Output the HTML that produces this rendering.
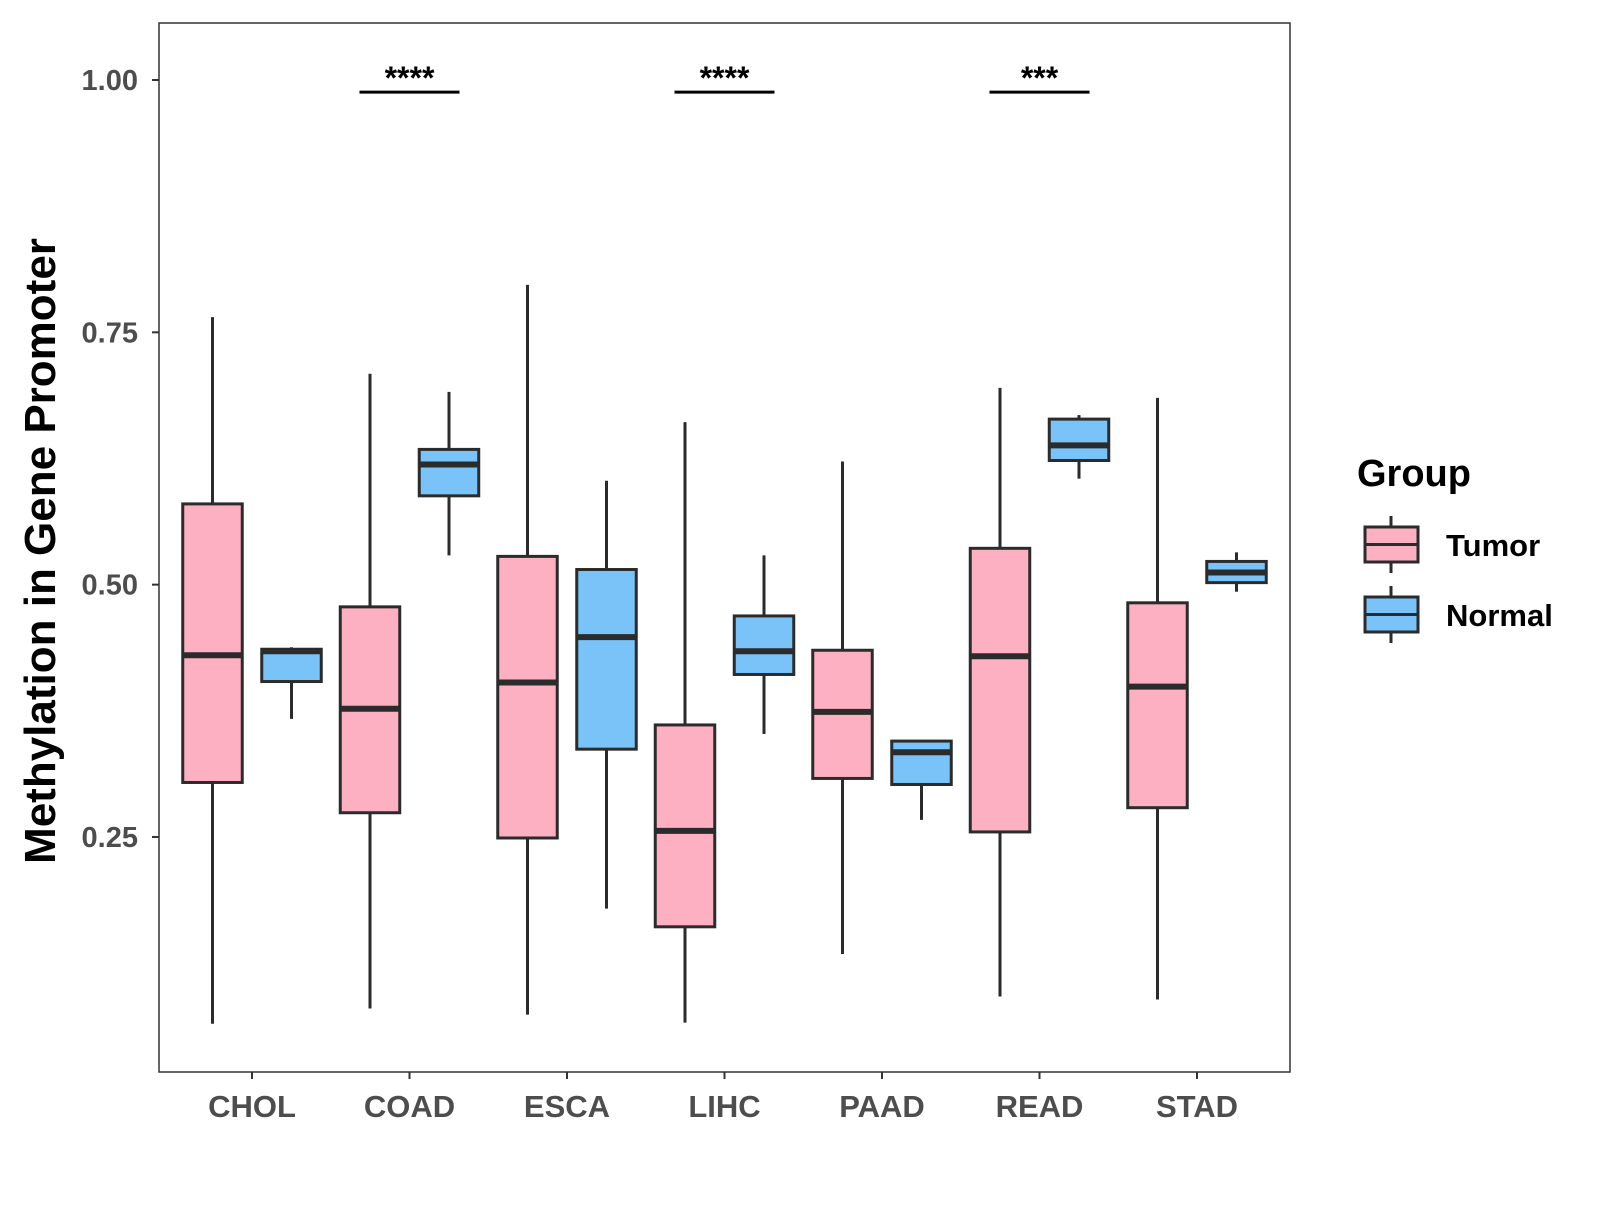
<!DOCTYPE html>
<html><head><meta charset="utf-8"><style>
body{margin:0;background:#fff}
svg text{font-family:"Liberation Sans",Arial,sans-serif;font-weight:bold}
</style></head><body>
<svg id="chart" width="1600" height="1200" xmlns="http://www.w3.org/2000/svg">
<rect width="1600" height="1200" fill="#fff"/>
<g id="plot"></g>
<text transform="translate(55,551) rotate(-90)" text-anchor="middle" font-size="44" fill="#000">Methylation in Gene Promoter</text>
<g transform="translate(-7,0)">
<text x="1364" y="486" font-size="38" fill="#000">Group</text>
<g>
<line x1="1398" x2="1398" y1="516" y2="573" stroke="#2b2b2b" stroke-width="3"/>
<rect x="1372" y="527" width="53" height="35" fill="#FDB0C1" stroke="#2b2b2b" stroke-width="3"/>
<line x1="1372" x2="1425" y1="544.5" y2="544.5" stroke="#2b2b2b" stroke-width="3"/>
<text x="1453" y="556" font-size="31" fill="#000">Tumor</text>
</g>
<g>
<line x1="1398" x2="1398" y1="586" y2="643" stroke="#2b2b2b" stroke-width="3"/>
<rect x="1372" y="597" width="53" height="35" fill="#79C3F8" stroke="#2b2b2b" stroke-width="3"/>
<line x1="1372" x2="1425" y1="614.5" y2="614.5" stroke="#2b2b2b" stroke-width="3"/>
<text x="1453" y="626" font-size="31" fill="#000">Normal</text>
</g>
</g>
</svg>
<script>
const categories=["CHOL","COAD","ESCA","LIHC","PAAD","READ","STAD"];
// [low, q1, median, q3, high]
const tumor=[[0.065,0.304,0.430,0.580,0.765],[0.080,0.274,0.377,0.478,0.709],[0.074,0.249,0.403,0.528,0.797],[0.066,0.161,0.256,0.361,0.661],[0.134,0.308,0.374,0.435,0.622],[0.092,0.255,0.429,0.536,0.695],[0.089,0.279,0.399,0.482,0.685]];
const normal=[[0.367,0.404,0.434,0.436,0.438],[0.529,0.588,0.619,0.634,0.691],[0.179,0.337,0.448,0.515,0.603],[0.352,0.411,0.434,0.469,0.529],[0.267,0.302,0.334,0.345,0.345],[0.605,0.623,0.638,0.664,0.668],[0.493,0.502,0.512,0.523,0.532]];
const yTicks=[0.25,0.5,0.75,1.0];
const yTickLabels=["0.25","0.50","0.75","1.00"];
const sigCats=["COAD","LIHC","READ"];
const sigLabels=["****","****","***"];
const sigLevel=0.988;

const NS="http://www.w3.org/2000/svg";
const g=document.getElementById('plot');
const PL=159,PT=23,PR=1290,PB=1072;
function y(v){return 80+(1-v)*1009.3;}
function x(i){return 252+i*157.5;}
function el(t,a,txt){const e=document.createElementNS(NS,t);for(const k in a)e.setAttribute(k,a[k]);if(txt!==undefined)e.textContent=txt;g.appendChild(e);return e;}

const panel=el('rect',{x:PL,y:PT,width:PR-PL,height:PB-PT,fill:'none',stroke:'#333','stroke-width':1.5});



yTicks.forEach((v,i)=>{
  const t=el('line',{x1:PL-7,x2:PL,y1:y(v),y2:y(v),stroke:'#333','stroke-width':2});
  
  
  const l=el('text',{x:PL-21,y:y(v)+10,'text-anchor':'end','font-size':29,fill:'#4d4d4d'},yTickLabels[i]);
  
  
});
categories.forEach((c,i)=>{
  const t=el('line',{x1:x(i),x2:x(i),y1:PB,y2:PB+7,stroke:'#333','stroke-width':2});
  
  
  const l=el('text',{x:x(i),y:PB+45,'text-anchor':'middle','font-size':31,fill:'#4d4d4d'},c);
  
  
});

function box(cx,d,fill,name){
  const w=59.5;
  const wl=el('line',{x1:cx,x2:cx,y1:y(d[0]),y2:y(d[4]),stroke:'#2b2b2b','stroke-width':3});
  
  
  const r=el('rect',{x:cx-w/2,y:y(d[3]),width:w,height:y(d[1])-y(d[3]),fill:fill,stroke:'#2b2b2b','stroke-width':3});
  
  
  const m=el('line',{x1:cx-w/2,x2:cx+w/2,y1:y(d[2]),y2:y(d[2]),stroke:'#2b2b2b','stroke-width':6});
  
  
}
categories.forEach((c,i)=>{
  box(x(i)-39.5,tumor[i],'#FDB0C1',c.toLowerCase()+'-tumor');
  box(x(i)+39.5,normal[i],'#79C3F8',c.toLowerCase()+'-normal');
});
sigCats.forEach((c,k)=>{
  const i=categories.indexOf(c);
  const l=el('line',{x1:x(i)-50,x2:x(i)+50,y1:y(sigLevel),y2:y(sigLevel),stroke:'#000','stroke-width':3});
  
  
  const t=el('text',{x:x(i),y:y(sigLevel)-3,'text-anchor':'middle','font-size':32,fill:'#000'},sigLabels[k]);
  
  
});
</script>
</body></html>
